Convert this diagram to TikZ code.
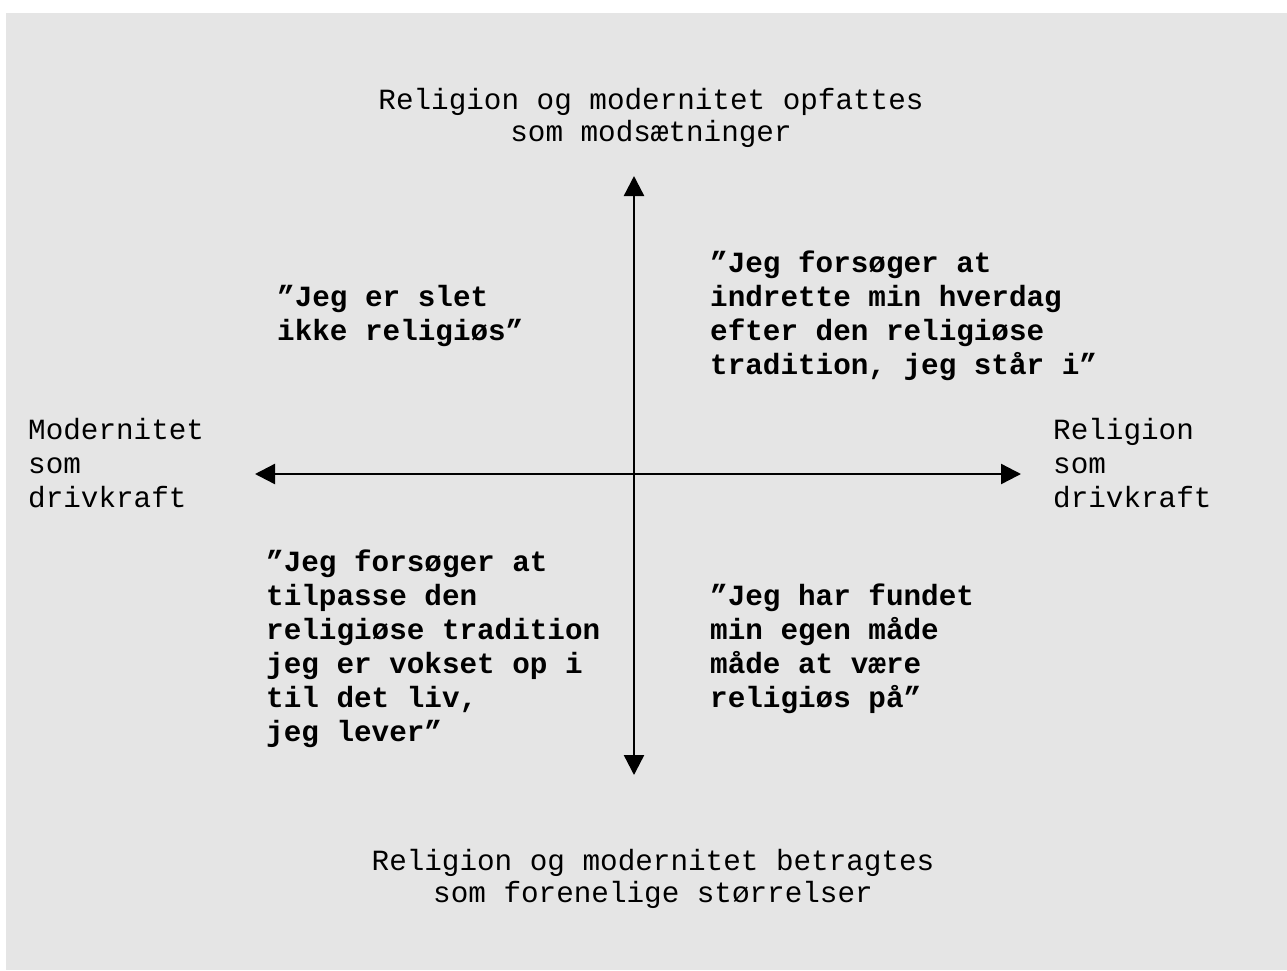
\documentclass[tikz,border=0pt]{standalone}
\usepackage{fontspec}
\newfontfamily\courfont{Liberation Mono}
\usetikzlibrary{arrows.meta}
\definecolor{panelgray}{HTML}{E5E5E5}
\tikzset{
  labeltext/.style={inner sep=0pt, align=left, font=\courfont\fontsize{29.3}{34}\selectfont},
  centretext/.style={inner sep=0pt, align=center, font=\courfont\fontsize{29.3}{32}\selectfont},
  quotetext/.style={inner sep=0pt, align=left, font=\courfont\bfseries\fontsize{29.3}{34}\selectfont},
  axis/.style={line width=2.4pt, {Triangle[length=20pt,width=20pt]}-{Triangle[length=20pt,width=20pt]}}
}
\begin{document}
\begin{tikzpicture}[x=1pt,y=-1pt]
  % canvas and grey panel
  \fill[white] (0,0) rectangle (1287,970);
  \fill[panelgray] (6,13) rectangle (1287,970);
  \useasboundingbox (0,0) rectangle (1287,970);

  % axis end points
  \coordinate (west) at (255,474);
  \coordinate (east) at (1021,474);
  \coordinate (north) at (634,176);
  \coordinate (south) at (634,775);
  \draw[axis] (west) -- (east);
  \draw[axis] (north) -- (south);

  % axis captions
  \node[centretext] (top) at (651,118) {Religion og modernitet opfattes\\som modsætninger};
  \node[centretext] (bottom) at (653,879) {Religion og modernitet betragtes\\som forenelige størrelser};
  \node[labeltext, anchor=west] (left) at (28,463) {Modernitet\\som\\drivkraft};
  \node[labeltext, anchor=west] (right) at (1053,463) {Religion\\som\\drivkraft};

  % quadrant statements
  \node[quotetext, anchor=west] (q1) at (277,316) {”Jeg er slet\\ikke religiøs”};
  \node[quotetext, anchor=west] (q2) at (710,316) {”Jeg forsøger at\\indrette min hverdag\\efter den religiøse\\tradition, jeg står i”};
  \node[quotetext, anchor=west] (q3) at (266,649) {”Jeg forsøger at\\tilpasse den\\religiøse tradition\\jeg er vokset op i\\til det liv,\\jeg lever”};
  \node[quotetext, anchor=west] (q4) at (710,649) {”Jeg har fundet\\min egen måde\\måde at være\\religiøs på”};
\end{tikzpicture}
\end{document}
